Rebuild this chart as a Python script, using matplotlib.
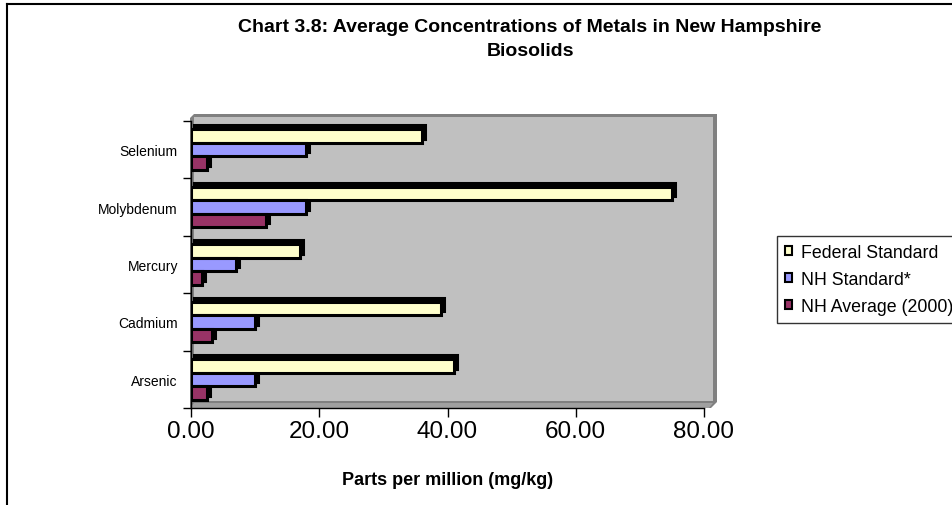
import matplotlib
matplotlib.use("Agg")
import matplotlib.pyplot as plt
import matplotlib.transforms as mtransforms
from matplotlib.patches import Polygon, Patch
from matplotlib.lines import Line2D
import numpy as np

# Data (parts per million, mg/kg)
metals = ["Arsenic", "Cadmium", "Mercury", "Molybdenum", "Selenium"]
federal_standard = [41, 39, 17, 75, 36]
nh_standard = [10, 10, 7, 18, 18]
nh_average_2000 = [2.5, 3.3, 1.7, 11.7, 2.5]
series_names = ["Federal Standard", "NH Standard*", "NH Average (2000)"]
series_colors = ["#FFFFCC", "#9999FF", "#993366"]
x_ticks = [0, 20, 40, 60, 80]

plt.rcParams['font.family'] = ['Liberation Sans', 'DejaVu Sans']

W, H = 952, 506
fig = plt.figure(figsize=(W / 100, H / 100), dpi=100)


def fx(px):
    return px / W


def fy(py):
    return 1 - py / H


def fpoly(pts, **kw):
    p = Polygon([(fx(a), fy(b)) for a, b in pts], closed=True,
                transform=fig.transFigure, **kw)
    fig.patches.append(p)
    return p


# outer frame of the chart object
fig.add_artist(Line2D([fx(7), fx(7)], [fy(5), 0], color="black", lw=1.5,
                      transform=fig.transFigure))
fig.add_artist(Line2D([fx(7), 1], [fy(5), fy(5)], color="black", lw=1.5,
                      transform=fig.transFigure))

# 3-D style back wall, side wall and floor
fpoly([(194, 115), (717, 115), (717, 403), (711, 409), (190, 409), (190, 119)],
      facecolor="#808080", edgecolor="none", zorder=-3)
fpoly([(194, 118), (713, 118), (713, 402), (194, 402)],
      facecolor="#C0C0C0", edgecolor="none", zorder=-2)
fpoly([(194, 404), (713, 404), (709, 409), (190, 409)],
      facecolor="#A0A0A0", edgecolor="none", zorder=-2)

ax_left, ax_right = 191, 704
ax_top, ax_bottom = 122, 409
ax = fig.add_axes([fx(ax_left), fy(ax_bottom),
                   (ax_right - ax_left) / W, (ax_bottom - ax_top) / H])
ax.set_xlim(0, 80)
ax.set_ylim(-0.5, len(metals) - 0.5)
ax.patch.set_visible(False)

y = np.arange(len(metals))
bar_h = 0.235
offsets = [bar_h, 0.0, -bar_h]
series = [federal_standard, nh_standard, nh_average_2000]

# depth faces (offset up and to the right), then front faces
depth = mtransforms.offset_copy(ax.transData, fig=fig, x=3, y=4, units="dots")
for vals, off in zip(series, offsets):
    bars = ax.barh(y + off, vals, height=bar_h, color="black",
                   edgecolor="black", linewidth=2.2, zorder=2)
    for b in bars:
        b.set_transform(depth)
for vals, off, col in zip(series, offsets, series_colors):
    ax.barh(y + off, vals, height=bar_h, color=col, edgecolor="black",
            linewidth=2.2, zorder=3)

# axes styling
for s in ["top", "right"]:
    ax.spines[s].set_visible(False)
for s in ["left", "bottom"]:
    ax.spines[s].set_linewidth(1.0)
    ax.spines[s].set_color("black")

ax.set_yticks(y)
ax.set_yticklabels(metals, fontsize=10)
ax.set_yticks(np.arange(-0.5, len(metals)), minor=True)
ax.tick_params(axis="y", which="major", length=0, pad=9.4)
ax.tick_params(axis="y", which="minor", length=6, width=1, direction="out")

ax.set_xticks(x_ticks)
ax.set_xticklabels([f"{v:.2f}" for v in x_ticks], fontsize=17.5)
ax.tick_params(axis="x", which="major", length=6.5, width=1, direction="out",
               pad=2.5)

# titles
fig.text(fx(530), fy(27), "Chart 3.8: Average Concentrations of Metals in New Hampshire",
         ha="center", va="center", fontsize=14, fontweight="bold")
fig.text(fx(530), fy(51), "Biosolids",
         ha="center", va="center", fontsize=14, fontweight="bold")
fig.text(fx(448), fy(481), "Parts per million (mg/kg)", ha="center",
         va="center", fontsize=13, fontweight="bold")

# legend
handles = [Patch(facecolor=c, edgecolor="black", linewidth=1.5)
           for c in series_colors]
leg = fig.legend(handles, series_names, loc="upper left",
                 bbox_to_anchor=(fx(777), fy(237)), borderaxespad=0,
                 frameon=True, fancybox=False, edgecolor="black",
                 fontsize=12.8, handlelength=0.4, handleheight=0.4,
                 handletextpad=0.5, labelspacing=0.57, borderpad=0.45)
leg.get_frame().set_linewidth(1.0)

fig.savefig("out.png", dpi=100)
